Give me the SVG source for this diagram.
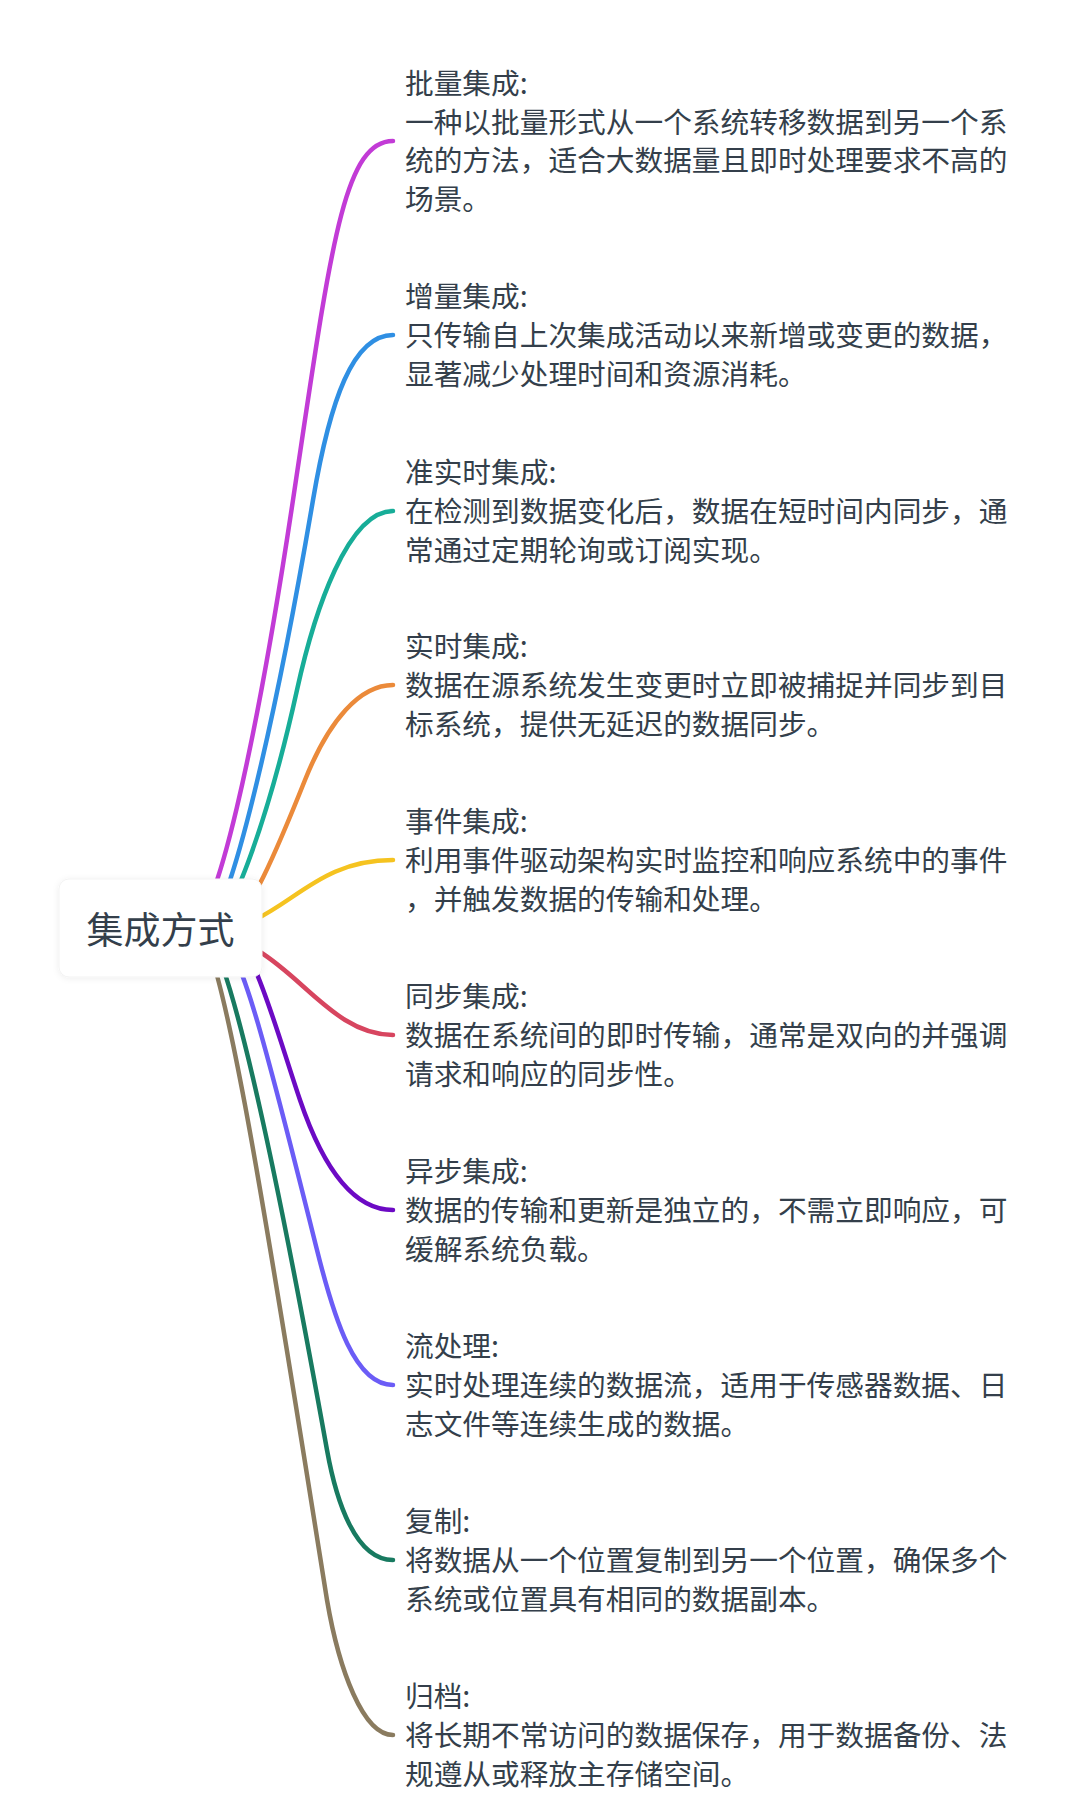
<svg xmlns="http://www.w3.org/2000/svg" width="1080" height="1801" viewBox="0 0 1080 1801">
<defs>
<style>
.c{fill:none;stroke-width:4.5;stroke-linecap:round}
.t{font-family:"Noto Sans CJK SC","Noto Sans",sans-serif;font-size:28.7px;fill:#343f4b}
.r{font-family:"Noto Sans CJK SC","Noto Sans",sans-serif;font-size:37px;fill:#343f4b;text-anchor:middle}
</style>
<filter id="sh" x="-20%" y="-30%" width="140%" height="160%">
<feDropShadow dx="0" dy="1" stdDeviation="3" flood-color="#000" flood-opacity="0.07"/>
</filter>
</defs>
<rect width="1080" height="1801" fill="#ffffff"/>
<g id="connectors">
<path class="c" stroke="#C23BD6" d="M393 141C343 141 330.5 250 293 500C255.5 750 215 928 190 928"/>
<path class="c" stroke="#2F8FE3" d="M393 335C353 335 330 400 313 500C270.5 750 225 928 205 928"/>
<path class="c" stroke="#17AD98" d="M393 511C348 511 314.6 610 297 690C270.6 810 230 928 210 928"/>
<path class="c" stroke="#EB8A3A" d="M393 685C360 685 329 720 305 780C281 840 245 928 225 928"/>
<path class="c" stroke="#F5C320" d="M393 860C300 860 283 935 190 935"/>
<path class="c" stroke="#D7455F" d="M393 1035C320 1035 285 935 205 935"/>
<path class="c" stroke="#6C0AC4" d="M393 1210C355 1210 323.8 1170 300 1100C272.8 1020 250 928 220 928"/>
<path class="c" stroke="#6B5CF6" d="M393 1385C355 1385 334.5 1320 317 1250C267 1050 237 928 212 928"/>
<path class="c" stroke="#187A60" d="M393 1560C355 1560 336 1500 327 1450C273 1150 225 928 200 928"/>
<path class="c" stroke="#8A7B5F" d="M393 1735C363 1735 339 1670 327 1600C271 1250 222 928 195 928"/>
</g>
<g id="root">
<rect x="59" y="879" width="203" height="98" rx="10" fill="#ffffff" stroke="#f3f3f3" stroke-width="1" filter="url(#sh)"/>
<text class="r" x="160.5" y="943.6">集成方式</text>
</g>
<g id="n1"><text class="t" x="405" y="93.9">批量集成:<tspan x="405" dy="38.7">一种以批量形式从一个系统转移数据到另一个系</tspan><tspan x="405" dy="38.7">统的方法，适合大数据量且即时处理要求不高的</tspan><tspan x="405" dy="38.7">场景。</tspan></text></g>
<g id="n2"><text class="t" x="405" y="307.2">增量集成:<tspan x="405" dy="38.7">只传输自上次集成活动以来新增或变更的数据，</tspan><tspan x="405" dy="38.7">显著减少处理时间和资源消耗。</tspan></text></g>
<g id="n3"><text class="t" x="405" y="483.2">准实时集成:<tspan x="405" dy="38.7">在检测到数据变化后，数据在短时间内同步，通</tspan><tspan x="405" dy="38.7">常通过定期轮询或订阅实现。</tspan></text></g>
<g id="n4"><text class="t" x="405" y="657.2">实时集成:<tspan x="405" dy="38.7">数据在源系统发生变更时立即被捕捉并同步到目</tspan><tspan x="405" dy="38.7">标系统，提供无延迟的数据同步。</tspan></text></g>
<g id="n5"><text class="t" x="405" y="832.2">事件集成:<tspan x="405" dy="38.7">利用事件驱动架构实时监控和响应系统中的事件</tspan><tspan x="405" dy="38.7">，并触发数据的传输和处理。</tspan></text></g>
<g id="n6"><text class="t" x="405" y="1007.2">同步集成:<tspan x="405" dy="38.7">数据在系统间的即时传输，通常是双向的并强调</tspan><tspan x="405" dy="38.7">请求和响应的同步性。</tspan></text></g>
<g id="n7"><text class="t" x="405" y="1182.2">异步集成:<tspan x="405" dy="38.7">数据的传输和更新是独立的，不需立即响应，可</tspan><tspan x="405" dy="38.7">缓解系统负载。</tspan></text></g>
<g id="n8"><text class="t" x="405" y="1357.2">流处理:<tspan x="405" dy="38.7">实时处理连续的数据流，适用于传感器数据、日</tspan><tspan x="405" dy="38.7">志文件等连续生成的数据。</tspan></text></g>
<g id="n9"><text class="t" x="405" y="1532.2">复制:<tspan x="405" dy="38.7">将数据从一个位置复制到另一个位置，确保多个</tspan><tspan x="405" dy="38.7">系统或位置具有相同的数据副本。</tspan></text></g>
<g id="n10"><text class="t" x="405" y="1707.2">归档:<tspan x="405" dy="38.7">将长期不常访问的数据保存，用于数据备份、法</tspan><tspan x="405" dy="38.7">规遵从或释放主存储空间。</tspan></text></g>
</svg>
